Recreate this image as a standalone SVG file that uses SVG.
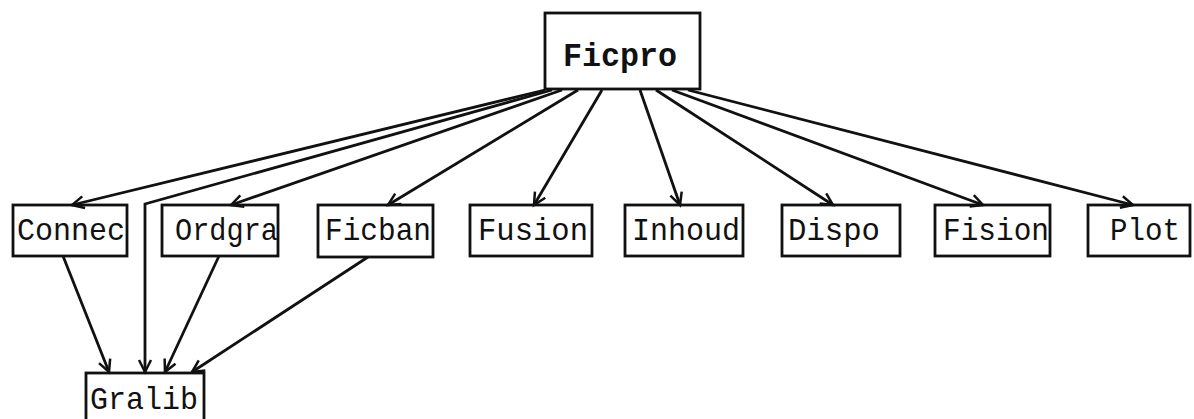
<svg xmlns="http://www.w3.org/2000/svg" width="1194" height="419" viewBox="0 0 1194 419">
<style>
.box{fill:none;stroke:#111;stroke-width:2.8}
.t{font-family:"Liberation Mono","Courier New",monospace;font-size:32px;fill:#111}
.b{font-weight:bold;font-size:33px}
.c{fill:none;stroke:#111;stroke-width:2.8}
</style>
<defs>
<marker id="ah" markerWidth="16" markerHeight="16" refX="13" refY="8" orient="auto" markerUnits="userSpaceOnUse">
<path d="M1,2 L13,8 L1,14" fill="none" stroke="#111" stroke-width="2.5"/>
</marker>
</defs>
<rect width="1194" height="419" fill="#fff"/>
<g id="connectors">
<line class="c" x1="545" y1="90" x2="72" y2="205" marker-end="url(#ah)"/>
<polyline class="c" points="552,90 145,204 145,372" marker-end="url(#ah)"/>
<line class="c" x1="562" y1="90" x2="231" y2="205" marker-end="url(#ah)"/>
<line class="c" x1="578" y1="90" x2="388" y2="205" marker-end="url(#ah)"/>
<line class="c" x1="602" y1="90" x2="534" y2="205" marker-end="url(#ah)"/>
<line class="c" x1="640" y1="90" x2="680" y2="205" marker-end="url(#ah)"/>
<line class="c" x1="656" y1="90" x2="833" y2="205" marker-end="url(#ah)"/>
<line class="c" x1="672" y1="90" x2="983" y2="205" marker-end="url(#ah)"/>
<line class="c" x1="688" y1="90" x2="1133" y2="205" marker-end="url(#ah)"/>
<line class="c" x1="63" y1="256" x2="109" y2="372" marker-end="url(#ah)"/>
<line class="c" x1="219" y1="256" x2="165" y2="372" marker-end="url(#ah)"/>
<line class="c" x1="368" y1="257" x2="192" y2="372" marker-end="url(#ah)"/>
</g>
<g id="Ficpro"><rect class="box" x="545" y="13" width="155" height="76"/><text class="t b" x="563" y="66" textLength="114" lengthAdjust="spacingAndGlyphs">Ficpro</text></g>
<g id="Connec"><rect class="box" x="13" y="205" width="114" height="51"/><text class="t" x="17" y="240" textLength="108" lengthAdjust="spacingAndGlyphs">Connec</text></g>
<g id="Ordgra"><rect class="box" x="162" y="205" width="116" height="51"/><text class="t" x="175" y="240" textLength="103" lengthAdjust="spacingAndGlyphs">Ordgra</text></g>
<g id="Ficban"><rect class="box" x="318" y="205" width="115" height="52"/><text class="t" x="325" y="240" textLength="106" lengthAdjust="spacingAndGlyphs">Ficban</text></g>
<g id="Fusion"><rect class="box" x="470" y="205" width="122" height="51"/><text class="t" x="478" y="240" textLength="110" lengthAdjust="spacingAndGlyphs">Fusion</text></g>
<g id="Inhoud"><rect class="box" x="625" y="205" width="118" height="51"/><text class="t" x="632" y="240" textLength="108" lengthAdjust="spacingAndGlyphs">Inhoud</text></g>
<g id="Dispo"><rect class="box" x="782" y="205" width="118" height="51"/><text class="t" x="788" y="240" textLength="92" lengthAdjust="spacingAndGlyphs">Dispo</text></g>
<g id="Fision"><rect class="box" x="935" y="205" width="115" height="51"/><text class="t" x="943" y="240" textLength="106" lengthAdjust="spacingAndGlyphs">Fision</text></g>
<g id="Plot"><rect class="box" x="1088" y="205" width="102" height="51"/><text class="t" x="1110" y="240" textLength="70" lengthAdjust="spacingAndGlyphs">Plot</text></g>
<g id="Gralib"><rect class="box" x="86" y="373" width="118" height="60"/><text class="t" x="90" y="409" textLength="108" lengthAdjust="spacingAndGlyphs">Gralib</text></g>
</svg>
